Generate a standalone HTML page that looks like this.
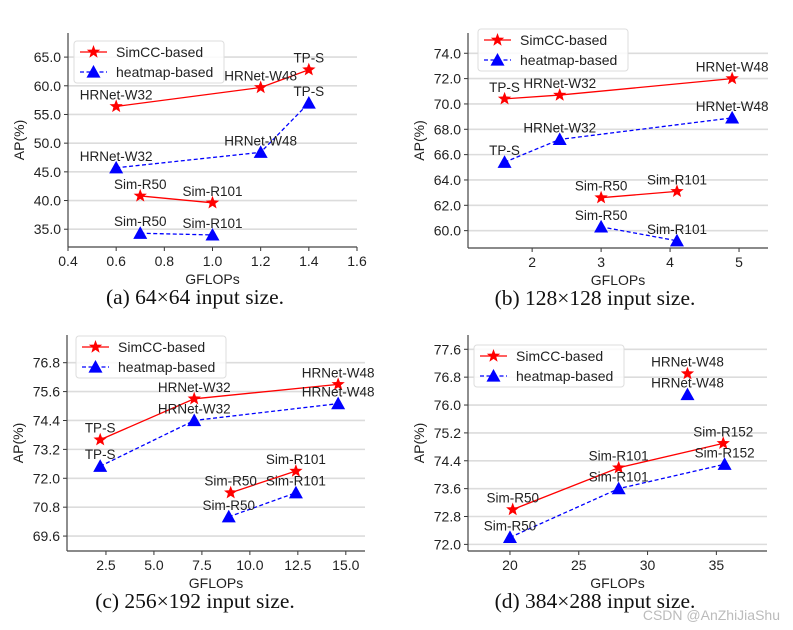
<!DOCTYPE html>
<html><head><meta charset="utf-8"><style>
body{margin:0;background:#fff}
svg{display:block}
text{font-family:"Liberation Sans",sans-serif}
.cap{font-family:"Liberation Serif",serif;font-size:21.5px}
</style></head><body>
<svg id="fig" width="793" height="630" viewBox="0 0 793 630" xmlns="http://www.w3.org/2000/svg"></svg>
<script>
// Panel (a)
const aSimX=[0.6,1.2,1.4], aSimY=[56.4,59.7,62.8], aSimL=['HRNet-W32','HRNet-W48','TP-S'];
const aSim2X=[0.7,1.0], aSim2Y=[40.8,39.6], aSim2L=['Sim-R50','Sim-R101'];
const aHmX=[0.6,1.2,1.4], aHmY=[45.7,48.4,57.0], aHmL=['HRNet-W32','HRNet-W48','TP-S'];
const aHm2X=[0.7,1.0], aHm2Y=[34.3,34.0], aHm2L=['Sim-R50','Sim-R101'];
const aXTicks=[0.4,0.6,0.8,1.0,1.2,1.4,1.6], aYTicks=[35,40,45,50,55,60,65];
// Panel (b)
const bSimX=[1.6,2.4,4.9], bSimY=[70.4,70.7,72.0], bSimL=['TP-S','HRNet-W32','HRNet-W48'];
const bSim2X=[3,4.1], bSim2Y=[62.6,63.1], bSim2L=['Sim-R50','Sim-R101'];
const bHmX=[1.6,2.4,4.9], bHmY=[65.4,67.2,68.9], bHmL=['TP-S','HRNet-W32','HRNet-W48'];
const bHm2X=[3,4.1], bHm2Y=[60.3,59.2], bHm2L=['Sim-R50','Sim-R101'];
const bXTicks=[2,3,4,5], bYTicks=[60,62,64,66,68,70,72,74];
// Panel (c)
const cSimX=[2.2,7.1,14.6], cSimY=[73.6,75.3,75.9], cSimL=['TP-S','HRNet-W32','HRNet-W48'];
const cSim2X=[9.0,12.4], cSim2Y=[71.4,72.3], cSim2L=['Sim-R50','Sim-R101'];
const cHmX=[2.2,7.1,14.6], cHmY=[72.5,74.4,75.1], cHmL=['TP-S','HRNet-W32','HRNet-W48'];
const cHm2X=[8.9,12.4], cHm2Y=[70.4,71.4], cHm2L=['Sim-R50','Sim-R101'];
const cXTicks=[2.5,5,7.5,10,12.5,15], cYTicks=[69.6,70.8,72.0,73.2,74.4,75.6,76.8];
// Panel (d)
const dSimX=[20.2,27.9,35.5], dSimY=[73.0,74.2,74.9], dSimL=['Sim-R50','Sim-R101','Sim-R152'];
const dSim2X=[32.9], dSim2Y=[76.9], dSim2L=['HRNet-W48'];
const dHmX=[20.0,27.9,35.6], dHmY=[72.2,73.6,74.3], dHmL=['Sim-R50','Sim-R101','Sim-R152'];
const dHm2X=[32.9], dHm2Y=[76.3], dHm2L=['HRNet-W48'];
const dXTicks=[20,25,30,35], dYTicks=[72.0,72.8,73.6,74.4,75.2,76.0,76.8,77.6];

const NS='http://www.w3.org/2000/svg';
const svg=document.getElementById('fig');
function mk(tag,attrs,parent){const e=document.createElementNS(NS,tag);for(const k in attrs)e.setAttribute(k,attrs[k]);(parent||svg).appendChild(e);return e;}
function star(cx,cy,r){let p=[];for(let i=0;i<10;i++){const rr=i%2?r*0.42:r;const a=-Math.PI/2+i*Math.PI/5;p.push((cx+rr*Math.cos(a)).toFixed(1)+','+(cy+rr*Math.sin(a)).toFixed(1));}return p.join(' ');}
function tri(cx,cy,r){return `${cx},${cy-r} ${cx-r},${cy+r*0.8} ${cx+r},${cy+r*0.8}`;}

function panel(id,L,R,T,B,xmin,xmax,ymin,ymax,xt,yt,dec,series,caption,capX,legX,legY){
  const g=mk('g',{});
  
  
  const sx=v=>L+(v-xmin)/(xmax-xmin)*(R-L);
  const sy=v=>B-(v-ymin)/(ymax-ymin)*(B-T);
  yt.forEach(v=>{
    const gl=mk('line',{x1:L,x2:R,y1:sy(v),y2:sy(v),stroke:'#dcdcdc','stroke-width':1.6},g);
    
    
    mk('line',{x1:L-4,x2:L,y1:sy(v),y2:sy(v),stroke:'#333'},g);
    const t=mk('text',{x:L-7,y:sy(v)+5,'text-anchor':'end','font-size':14,fill:'#222'},g);
    t.textContent=v.toFixed(1);
    
    
  });
  xt.forEach(v=>{
    mk('line',{x1:sx(v),x2:sx(v),y1:B,y2:B+4,stroke:'#333'},g);
    const t=mk('text',{x:sx(v),y:B+19,'text-anchor':'middle','font-size':14,fill:'#222'},g);
    t.textContent=dec===null?String(v):v.toFixed(dec);
    
    
  });
  mk('line',{x1:L,x2:L,y1:T,y2:B,stroke:'#444','stroke-width':1.2},g);
  mk('line',{x1:L,x2:R,y1:B,y2:B,stroke:'#444','stroke-width':1.2},g);
  const yl=mk('text',{x:0,y:0,transform:`translate(${L-44},${(T+B)/2}) rotate(-90)`,'text-anchor':'middle','font-size':14,fill:'#222'},g);
  yl.textContent='AP(%)';
  
  
  const xl=mk('text',{x:(L+R)/2,y:B+37,'text-anchor':'middle','font-size':14,fill:'#222'},g);
  xl.textContent='GFLOPs';
  
  
  series.forEach(s=>{
    const red=s.type==='sim';
    const col=red?'#ff0000':'#0000ff';
    if(s.x.length>1){
      const pl=mk('polyline',{points:s.x.map((v,i)=>sx(v)+','+sy(s.y[i])).join(' '),fill:'none',stroke:col,'stroke-width':1.3,'stroke-dasharray':red?'none':'4,2.5'},g);
      
      
    }
    s.x.forEach((v,i)=>{
      const px=sx(v),py=sy(s.y[i]);
      const m=mk('polygon',{points:red?star(px,py,7):tri(px,py,7),fill:col},g);
      
      
      const t=mk('text',{x:px,y:py-7,'text-anchor':'middle','font-size':13.5,fill:'#222'},g);
      t.textContent=s.l[i];
      
      
    });
  });
  const lg=mk('g',{},g);
  
  
  mk('rect',{x:legX,y:legY,width:150,height:42,rx:3,fill:'#fff','fill-opacity':0.85,stroke:'#ddd'},lg);
  mk('line',{x1:legX+6,x2:legX+33,y1:legY+11,y2:legY+11,stroke:'#f00','stroke-width':1.3},lg);
  mk('polygon',{points:star(legX+19.5,legY+11,7),fill:'#f00'},lg);
  const t1=mk('text',{x:legX+42,y:legY+16,'font-size':14,fill:'#222'},lg);t1.textContent='SimCC-based';
  
  
  mk('line',{x1:legX+6,x2:legX+33,y1:legY+31,y2:legY+31,stroke:'#00f','stroke-width':1.3,'stroke-dasharray':'4,2.5'},lg);
  mk('polygon',{points:tri(legX+19.5,legY+31,7),fill:'#00f'},lg);
  const t2=mk('text',{x:legX+42,y:legY+36,'font-size':14,fill:'#222'},lg);t2.textContent='heatmap-based';
  
  
  const c=mk('text',{x:capX,y:B+57,'text-anchor':'middle','class':'cap',fill:'#111'},g);
  c.textContent=caption;
  
  
}
panel('a',68,357,33,247,0.4,1.6,31.9,69.2,aXTicks,aYTicks,1,
 [{type:'sim',x:aSimX,y:aSimY,l:aSimL},{type:'sim',x:aSim2X,y:aSim2Y,l:aSim2L},{type:'hm',x:aHmX,y:aHmY,l:aHmL},{type:'hm',x:aHm2X,y:aHm2Y,l:aHm2L}],
 '(a) 64×64 input size.',195,74,41);
panel('b',468,768,33,248,1.07,5.42,58.63,75.6,bXTicks,bYTicks,null,
 [{type:'sim',x:bSimX,y:bSimY,l:bSimL},{type:'sim',x:bSim2X,y:bSim2Y,l:bSim2L},{type:'hm',x:bHmX,y:bHmY,l:bHmL},{type:'hm',x:bHm2X,y:bHm2Y,l:bHm2L}],
 '(b) 128×128 input size.',595,478,29);
panel('c',67,365,335,551,0.47,16.0,68.98,77.95,cXTicks,cYTicks,1,
 [{type:'sim',x:cSimX,y:cSimY,l:cSimL},{type:'sim',x:cSim2X,y:cSim2Y,l:cSim2L},{type:'hm',x:cHmX,y:cHmY,l:cHmL},{type:'hm',x:cHm2X,y:cHm2Y,l:cHm2L}],
 '(c) 256×192 input size.',195,76,336);
panel('d',468,767,335,551,16.95,38.68,71.81,78.01,dXTicks,dYTicks,null,
 [{type:'sim',x:dSimX,y:dSimY,l:dSimL},{type:'sim',x:dSim2X,y:dSim2Y,l:dSim2L},{type:'hm',x:dHmX,y:dHmY,l:dHmL},{type:'hm',x:dHm2X,y:dHm2Y,l:dHm2L}],
 '(d) 384×288 input size.',595,474,345);
const wm=mk('text',{x:780,y:620,'text-anchor':'end','font-size':14,fill:'#bbb'});
wm.textContent='CSDN @AnZhiJiaShu';


</script>
</body></html>
